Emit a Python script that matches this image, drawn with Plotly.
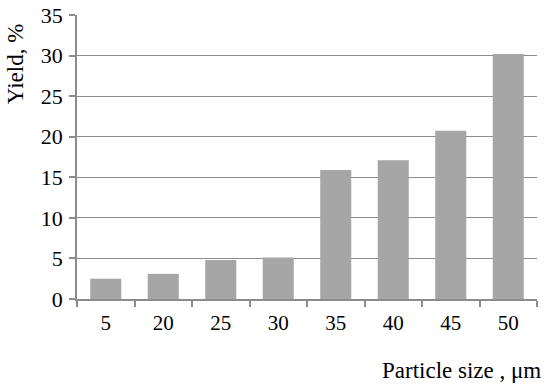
import plotly.graph_objects as go

categories = ["5", "20", "25", "30", "35", "40", "45", "50"]
yield_pct = [2.5, 3.1, 4.8, 5.1, 15.9, 17.1, 20.75, 30.2]
y_ticks = [0, 5, 10, 15, 20, 25, 30, 35]

FONT = "Liberation Serif"

fig = go.Figure(go.Bar(x=categories, y=yield_pct, marker=dict(color="#a6a6a6", line=dict(width=0))))

fig.update_layout(
    width=550, height=388,
    margin=dict(l=77, r=13, t=15, b=89),
    plot_bgcolor="white", paper_bgcolor="white",
    bargap=0.46,
    showlegend=False,
    font=dict(family=FONT, size=21, color="black"),
)
fig.update_xaxes(
    type="category", showline=True, linecolor="#8c8c8c", linewidth=1.5,
    ticks="outside", tickson="boundaries", ticklen=6, tickcolor="#8c8c8c", tickwidth=1.5,
    showgrid=False, tickfont=dict(family=FONT, size=21), automargin=False,
    ticklabelstandoff=4,
)
fig.update_yaxes(
    range=[0, 35], tickvals=y_ticks, showline=True, linecolor="#8c8c8c", linewidth=1.5,
    ticks="outside", ticklen=6, tickcolor="#8c8c8c", tickwidth=1.5,
    showgrid=True, gridcolor="#8c8c8c", gridwidth=1.2, zeroline=False,
    tickfont=dict(family=FONT, size=22), automargin=False,
    ticklabelstandoff=2,
)
fig.add_annotation(text="Yield, %", xref="paper", yref="paper", x=-0.135, y=0.83,
                   textangle=-90, showarrow=False, font=dict(family=FONT, size=23),
                   xanchor="center", yanchor="middle")
fig.add_annotation(text="Particle size , μm", xref="paper", yref="paper", x=1.013, y=-0.25,
                   showarrow=False, font=dict(family=FONT, size=23),
                   xanchor="right", yanchor="middle")

fig.write_html("out.html", config={"displayModeBar": False},
               post_script="document.body.style.margin='0';document.body.style.overflow='hidden';")
